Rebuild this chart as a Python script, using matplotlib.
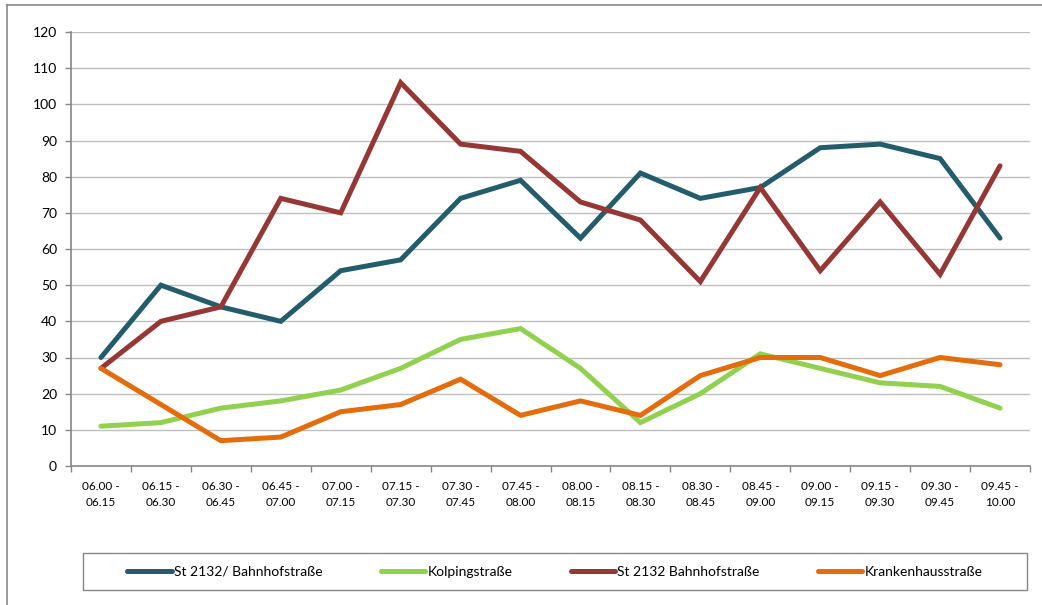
import matplotlib
matplotlib.use("Agg")
import matplotlib.pyplot as plt
from matplotlib.lines import Line2D
from matplotlib.patches import Rectangle
import numpy as np

plt.rcParams['font.family'] = ['Lato', 'DejaVu Sans']

categories = ["06.00 -\n06.15", "06.15 -\n06.30", "06.30 -\n06.45", "06.45 -\n07.00",
              "07.00 -\n07.15", "07.15 -\n07.30", "07.30 -\n07.45", "07.45 -\n08.00",
              "08.00 -\n08.15", "08.15 -\n08.30", "08.30 -\n08.45", "08.45 -\n09.00",
              "09.00 -\n09.15", "09.15 -\n09.30", "09.30 -\n09.45", "09.45 -\n10.00"]

st2132_slash = [30, 50, 44, 40, 54, 57, 74, 79, 63, 81, 74, 77, 88, 89, 85, 63]
kolping = [11, 12, 16, 18, 21, 27, 35, 38, 27, 12, 20, 31, 27, 23, 22, 16]
st2132 = [27, 40, 44, 74, 70, 106, 89, 87, 73, 68, 51, 77, 54, 73, 53, 83]
kranken = [27, 17, 7, 8, 15, 17, 24, 14, 18, 14, 25, 30, 30, 25, 30, 28]

series_names = ["St 2132/ Bahnhofstraße", "Kolpingstraße", "St 2132 Bahnhofstraße", "Krankenhausstraße"]
series_data = [st2132_slash, kolping, st2132, kranken]
colors = ["#235C6B", "#92D050", "#953735", "#E46C0A"]

W, H = 1042, 605
fig = plt.figure(figsize=(W / 100, H / 100), dpi=100)
ax = fig.add_axes([71 / W, 1 - 466 / H, (1030 - 71) / W, (466 - 32) / H])

x = np.arange(len(categories))
handles = []
for name, data, c in zip(series_names, series_data, colors):
    h, = ax.plot(x, data, color=c, lw=3.6, solid_joinstyle='miter', solid_capstyle='round', label=name, zorder=3)
    handles.append(h)

ax.set_xlim(-0.5, len(categories) - 0.5)
ax.set_ylim(0, 120)
ax.set_yticks(np.arange(0, 121, 10))
ax.yaxis.grid(True, color="#BFBFBF", lw=1.0, zorder=0)
ax.set_axisbelow(True)

for s in ["top", "right"]:
    ax.spines[s].set_visible(False)
for s in ["left", "bottom"]:
    ax.spines[s].set_color("#868686")
    ax.spines[s].set_linewidth(1.2)

ax.set_xticks(x)
ax.set_xticklabels(categories, fontsize=8.5, linespacing=1.5)
ax.set_xticks(np.arange(-0.5, len(categories), 1), minor=True)
ax.tick_params(axis='x', which='major', length=0, pad=11, colors="#000000")
ax.tick_params(axis='x', which='minor', length=4, color="#868686", width=1)
ax.tick_params(axis='y', length=4, color="#868686", width=1, pad=6, labelsize=10)

# legend frame and legend
fig.patches.append(Rectangle((83 / W, 1 - 590 / H), (1027 - 83) / W, 37 / H,
                             transform=fig.transFigure, fill=False, edgecolor="#888888", lw=1.0))
fig.legend(handles=handles, loc='center', bbox_to_anchor=((83 + 1027) / 2 / W, 1 - 571.5 / H),
           ncol=4, frameon=False, fontsize=10, handlelength=3.2, handletextpad=0.15,
           columnspacing=4.2)

# outer border (partially visible)
fig.add_artist(Line2D([7 / W, 7 / W], [0, 1 - 5 / H], transform=fig.transFigure, color="#888888", lw=1.2))
fig.add_artist(Line2D([7 / W, 1], [1 - 5 / H, 1 - 5 / H], transform=fig.transFigure, color="#888888", lw=1.2))

fig.savefig("out.png", dpi=100)
